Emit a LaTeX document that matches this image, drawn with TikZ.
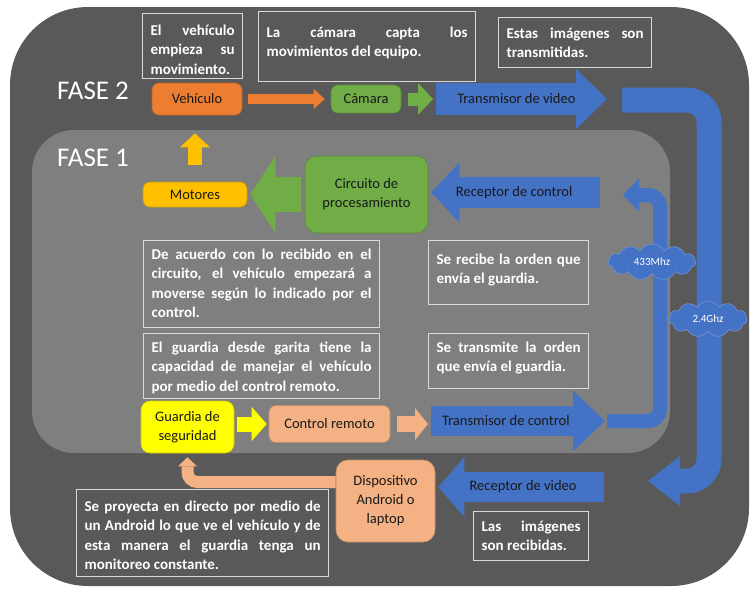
\documentclass[tikz,border=0pt]{standalone}
\usepackage{fontspec}
\setmainfont{Carlito}
\usetikzlibrary{arrows.meta,positioning,shapes.symbols,calc}
\definecolor{fasedark}{HTML}{595959}
\definecolor{faselight}{HTML}{7F7F7F}
\definecolor{msblue}{HTML}{4472C4}
\definecolor{msorange}{HTML}{ED7D31}
\definecolor{msgreen}{HTML}{70AD47}
\definecolor{msgold}{HTML}{FFC000}
\definecolor{msyellow}{HTML}{FFFF00}
\definecolor{mspeach}{HTML}{F4B183}
\definecolor{boxline}{HTML}{D9D9D9}
\hyphenpenalty=10000
\exhyphenpenalty=10000
\tolerance=10000
% #1 = drop of the first line, #2 = width, #3 = height, #4 = text
\newcommand{\notetxt}[4][0pt]{\parbox[c][#3][t]{#2}{\vspace*{#1}#4}}

\begin{document}
\begin{tikzpicture}[x=1pt, y=-1pt,
    stage/.style={fill=#1, draw=#1!80!black, line width=0.6pt, rounded corners=7pt, inner sep=0pt, align=center, text=black!90, font=\fontsize{14.5}{19}\selectfont},
    note/.style={draw=boxline, line width=1.2pt, inner sep=8pt, anchor=north west, text=white, font=\fontsize{15}{19.5}\selectfont\bfseries},
    lbl/.style={text=black!90, font=\fontsize{14.5}{19}\selectfont},
    blk/.style n args={4}{draw=#1, line width=#2, -{Triangle[length=#3, width=#4, line width=0pt]}},
    cloudtag/.style={cloud, cloud puffs=11, cloud puff arc=120, aspect=2.5, fill=msblue, draw=msblue!80!white, line width=0.8pt, text=white, inner sep=0pt, minimum height=36pt, font=\fontsize{11}{12}\selectfont},
    fase/.style={text=white, font=\fontsize{27}{30}\selectfont}]
    \useasboundingbox (0,0) rectangle (752,592);

    % Backgrounds of both phases
    \fill[fasedark, rounded corners=78pt] (10,7) rectangle (749,586);
    \fill[faselight, rounded corners=42pt] (32,130) rectangle (670,453);
    \node[fase] (f2) at (93,91) {FASE 2};
    \node[fase] (f1) at (93,158) {FASE 1};

    % Description boxes
    \node[note] (d1) at (142,13) {\notetxt[3pt]{84pt}{49pt}{El vehículo\linebreak empieza su\linebreak movimiento.}};
    \node[note] (d2) at (258,11) {\notetxt[7pt]{201pt}{54pt}{La cámara capta los\linebreak movimientos del equipo.}};
    \node[note] (d3) at (498,17) {\notetxt[2pt]{137pt}{34pt}{Estas imágenes son\linebreak transmitidas.}};
    \node[note] (d4) at (143,240) {\notetxt{220pt}{71pt}{De acuerdo con lo recibido en el\linebreak circuito, el vehículo empezará a\linebreak moverse según lo indicado por el\linebreak control.}};
    \node[note] (d5) at (428,240) {\notetxt[5pt]{144pt}{48pt}{Se recibe la orden que\linebreak envía el guardia.}};
    \node[note] (d6) at (143,333) {\notetxt{220pt}{49pt}{El guardia desde garita tiene la\linebreak capacidad de manejar el vehículo\linebreak por medio del control remoto.}};
    \node[note] (d7) at (428,333) {\notetxt{144pt}{39pt}{Se transmite la orden\linebreak que envía el guardia.}};
    \node[note] (d8) at (76,489) {\notetxt[3pt]{236pt}{71pt}{Se proyecta en directo por medio de\linebreak un Android lo que ve el vehículo y de\linebreak esta manera el guardia tenga un\linebreak monitoreo constante.}};
    \node[note] (d9) at (473,511) {\notetxt[1pt]{99pt}{33pt}{Las imágenes\linebreak son recibidas.}};

    % Stages
    \node[stage=msorange, minimum width=90pt, minimum height=32pt] (veh) at (197,99) {Vehículo};
    \node[stage=msgreen, minimum width=70pt, minimum height=28pt] (cam) at (366,99) {Cámara};
    \node[stage=msgold, minimum width=104pt, minimum height=25pt] (mot) at (195,194.5) {Motores};
    \node[stage=msgreen, minimum width=123pt, minimum height=77pt, rounded corners=12pt] (circ) at (366.5,194.5) {Circuito de\\procesamiento};
    \node[stage=msyellow, minimum width=93pt, minimum height=52pt, rounded corners=9pt] (guard) at (187.5,427) {Guardia de\\seguridad};
    \node[stage=mspeach, minimum width=121pt, minimum height=37pt] (ctrl) at (329.5,424) {Control remoto};
    \node[stage=mspeach, minimum width=99pt, minimum height=82pt, rounded corners=12pt] (disp) at (385.5,501) {Dispositivo\\Android o\\laptop};

    % Ends of the radio links
    \coordinate (tvS) at (436,99);
    \coordinate (tvE) at (607,99);
    \coordinate (rcS) at (600,192.5);
    \coordinate (tcS) at (431,421);
    \coordinate (tcE) at (605,421);
    \coordinate (rvS) at (604,487);
    \coordinate (u24S) at (622,100);
    \coordinate (u24E) at (648,481);
    \coordinate (u433S) at (607,421);
    \coordinate (u433E) at (623,195);

    % Fase 2: video
    \draw[blk={msorange}{10pt}{11pt}{20pt}, shorten <=6pt, shorten >=6pt] (veh) -- (cam);
    \draw[blk={msgreen}{13pt}{15pt}{32pt}, shorten <=7pt, shorten >=3pt] (cam) -- (tvS);
    \draw[blk={msblue}{32pt}{31pt}{60pt}] (tvS) -- (tvE) node[lbl, pos=0.47] (tvid) {Transmisor de video};
    \draw[blk={msblue}{25pt}{32pt}{50pt}, rounded corners=22pt] (u24S) -- (709,100) -- (709,481) -- (u24E);
    \draw[blk={msblue}{30pt}{26pt}{60pt}, shorten >=3pt] (rvS) -- (rvS -| disp.east) node[lbl, pos=0.48] (rvid) {Receptor de video};
    \draw[blk={mspeach}{12pt}{9pt}{19pt}, rounded corners=10pt, shorten >=4pt] (disp.west |- 0,482) -| (guard.south);

    % Fase 1: control
    \draw[blk={msyellow}{15pt}{15pt}{34pt}, shorten <=3pt, shorten >=2pt] (guard.east |- ctrl) -- (ctrl.west);
    \draw[blk={mspeach}{16pt}{13pt}{32pt}, shorten <=7pt, shorten >=3pt] (ctrl) -- (ctrl -| tcS);
    \draw[blk={msblue}{30pt}{32pt}{61pt}] (tcS) -- (tcE) node[lbl, pos=0.43] (tcon) {Transmisor de control};
    \draw[blk={msblue}{14pt}{16pt}{33pt}, rounded corners=12pt] (u433S) -- (660,421) -- (660,195) -- (u433E);
    \draw[blk={msblue}{31pt}{28pt}{60pt}, shorten >=3pt] (rcS) -- (rcS -| circ.east) node[lbl, midway] (rcon) {Receptor de control};
    \draw[blk={msgreen}{35pt}{25pt}{77pt}, shorten <=4pt, shorten >=3pt] (circ) -- (mot);
    \draw[blk={msgold}{14pt}{14pt}{30pt}, shorten <=17pt, shorten >=18pt] (mot.north) -- (mot.north |- veh.south);

    % Frequencies
    \node[cloudtag, minimum width=87pt] (c433) at (652,262) {433Mhz};
    \node[cloudtag, minimum width=78pt] (c24) at (708,319) {2.4Ghz};
\end{tikzpicture}
\end{document}
